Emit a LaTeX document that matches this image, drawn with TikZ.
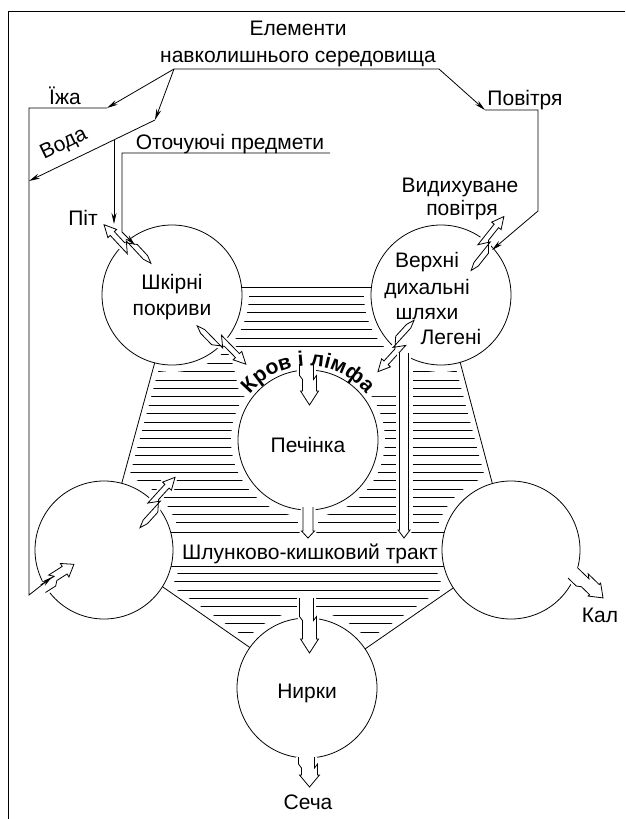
\documentclass[tikz,border=0pt]{standalone}
\usepackage{fontspec}
\setmainfont{Liberation Sans}
\usetikzlibrary{arrows.meta,calc,decorations.text}
\newcommand\getang[2]{\path let \p1=(#1), \p2=(#2), \n1={atan2(\y2-\y1,\x2-\x1)}, \n2={veclen(\x2-\x1,\y2-\y1)} in \pgfextra{\xdef\hang{\n1}\xdef\hlen{\n2}};}
% #1 tail, #2 head, #3 half shaft, #4 half head, #5 head length, #6 zig, #7 backstep, #8 tail point (0=open)
\newcommand\harr[8]{%
  \getang{#1}{#2}%
  \begin{scope}[shift={(#1)}, rotate=\hang, x=1pt, y=1pt]
    \pgfmathsetmacro\hnk{\hlen-#5}%
    \pgfmathsetmacro\hmm{0.5*(\hnk+#8)}%
    \pgfmathsetmacro\hza{#6/2}%
    \ifdim #8pt>0pt
      \foreach \st in {halo,hollow}{\filldraw[\st] (0,-\hza) -- (#8,#3-\hza) -- (\hmm+#7,#3-\hza) -- (\hmm-#7,#3+\hza) -- (\hnk,#3+\hza) -- (\hnk,#4+\hza) -- (\hlen,\hza) -- (\hnk,-#4+\hza) -- (\hnk,-#3+\hza) -- (\hmm+#7,-#3+\hza) -- (\hmm-#7,-#3-\hza) -- (#8,-#3-\hza) -- cycle;}
    \else
      \foreach \st in {halo,hollow}{\filldraw[\st] (0,#3-\hza) -- (\hmm+#7,#3-\hza) -- (\hmm-#7,#3+\hza) -- (\hnk,#3+\hza) -- (\hnk,#4+\hza) -- (\hlen,\hza) -- (\hnk,-#4+\hza) -- (\hnk,-#3+\hza) -- (\hmm+#7,-#3+\hza) -- (\hmm-#7,-#3-\hza) -- (0,-#3-\hza);}
    \fi
  \end{scope}}
\begin{document}
\begin{tikzpicture}[x=1pt,y=-1pt,
  lab/.style={font=\fontsize{21}{26}\selectfont, inner sep=0pt, text height=15pt, text depth=0pt},
  blk/.style={line width=0.8pt, -{Stealth[length=11pt,width=5pt]}},
  ring/.style={circle, draw, fill=white, line width=0.8pt, minimum size=140pt, inner sep=0pt},
  hollow/.style={fill=white, draw=black, line width=0.8pt, line join=miter, miter limit=5},
  halo/.style={fill=white, draw=white, line width=5pt, line join=round},
  hatch/.style={line width=0.8pt},
  bound/.style={line width=0.8pt}
]
\useasboundingbox (0,0) rectangle (625,819);
% ---------- hatching ----------
\begin{scope}
\clip (242,287) -- (371,287) -- (441,295) -- (461,363) -- (492,482) -- (511,550) -- (452,589) -- (368,647) -- (307,688) -- (249,647) -- (164,588) -- (104,550) -- (122,482) -- (154,363) -- (172,295) -- cycle;
\foreach \i in {0,...,41} \draw[hatch] (0,296+8.4*\i) -- (625,296+8.4*\i);
\end{scope}
% ---------- white masks ----------
\foreach \c in {(172,295),(441,295),(308,440),(104,550),(511,550),(307,688)} \fill[white] \c circle[radius=77];
\fill[white] (228,349) -- (398,349) -- (398,396) -- (240,396) -- (234,368) -- cycle;
\fill[white] (298,500) rectangle (318,545);
\fill[white] (396,350) rectangle (413,545);
\fill[white] (100,529) rectangle (520,569);
\draw[white, line width=11pt] (156,358) -- (121,486);
\draw[white, line width=11pt] (459,358) -- (493,486);
\draw[white, line width=11pt] (160,585) -- (252,649);
\draw[white, line width=11pt] (456,586) -- (365,649);
% ---------- boundary lines ----------
\draw[bound] (238,287) -- (375,287);
\draw[bound] (156,358) -- (121,486);
\draw[bound] (459,358) -- (493,486);
\draw[bound] (160,585) -- (252,649);
\draw[bound] (456,586) -- (365,649);
\draw[bound] (160,532) -- (455,532);
\draw[bound] (160,566) -- (455,566);
% ---------- circles ----------
\node[ring] (skin) at (172,295) {};
\node[ring] (resp) at (441,295) {};
\node[ring] (liver) at (308,440) {};
\node[ring, minimum size=138pt] (gil) at (104,550) {};
\node[ring, minimum size=138pt] (gir) at (511,550) {};
\node[ring] (kid) at (307,688) {};
% ---------- hollow arrows ----------
\coordinate (a1t) at (148,266); \coordinate (a1h) at (107,222);
\coordinate (a2t) at (200,323); \coordinate (a2h) at (243,367);
\coordinate (a3t) at (417,323); \coordinate (a3h) at (375,369);
\coordinate (a4t) at (468,268); \coordinate (a4h) at (507,219);
\coordinate (a5t) at (137,525); \coordinate (a5h) at (178,480);
\coordinate (a6t) at (42,587);  \coordinate (a6h) at (75,566);
\coordinate (a7t) at (308,364); \coordinate (a7h) at (308,405);
\coordinate (a8t) at (308,507); \coordinate (a8h) at (308,538);
\coordinate (a9t) at (404,353); \coordinate (a9h) at (404,538);
\coordinate (a10t) at (308,598); \coordinate (a10h) at (308,653);
\coordinate (a11t) at (308,757); \coordinate (a11h) at (308,787);
\coordinate (a12t) at (574,572); \coordinate (a12h) at (602,599);
\harr{a1t}{a1h}{2.8}{6}{12}{8}{5}{8}
\harr{a2t}{a2h}{2.8}{6}{12}{8}{5}{8}
\harr{a3t}{a3h}{2.8}{6}{12}{8}{5}{8}
\harr{a4t}{a4h}{2.8}{6}{12}{8}{5}{8}
\harr{a5t}{a5h}{2.8}{6}{12}{8}{5}{8}
\harr{a6t}{a6h}{4.5}{8}{11}{4}{2}{0}
\harr{a7t}{a7h}{7}{9}{14}{3}{2}{0}
\harr{a8t}{a8h}{5}{6.5}{7}{0}{0}{0}
\harr{a9t}{a9h}{4.5}{6}{8}{0}{0}{0}
\harr{a10t}{a10h}{7}{9}{14}{3}{2}{0}
\harr{a11t}{a11h}{8}{10}{12}{3}{2}{0}
\harr{a12t}{a12h}{7}{9}{12}{3}{2}{0}
% ---------- black arrows ----------
\coordinate (e0) at (174,69); \coordinate (e1) at (439,69);
\coordinate (pv) at (485,110); \coordinate (pv2) at (538,110); \coordinate (pv3) at (538,211); \coordinate (pve) at (492,250);
\coordinate (zh) at (107,108); \coordinate (zh1) at (29,108); \coordinate (zh2) at (29,595); \coordinate (zhe) at (52,577);
\coordinate (vd) at (155,120); \coordinate (vde) at (29,181); \coordinate (vdj) at (114,140); \coordinate (vde2) at (114,224);
\coordinate (ot0) at (330,153); \coordinate (ot1) at (122,153); \coordinate (ot2) at (122,232); \coordinate (ote) at (135,245);
\draw[blk] (e0) -- (e1) -- (pv);
\draw[blk] (pv) -- (pv2) -- (pv3) -- (pve);
\draw[blk] (e0) -- (zh);
\draw[blk] (zh) -- (zh1) -- (zh2) -- (zhe);
\draw[blk] (e0) -- (vd);
\draw[blk] (vd) -- (vde);
\draw[blk] (vdj) -- (vde2);
\draw[blk] (ot0) -- (ot1) -- (ot2) -- (ote);
% ---------- texts ----------
\node[lab] (tEl) at (298,28) {Елементи};
\node[lab] (tNav) at (298,55) {навколишнього середовища};
\node[lab] (tZh) at (65,97) {Їжа};
\node[lab, rotate=26] (tVoda) at (63,142) {Вода};
\node[lab] (tOt) at (230,142) {Оточуючі предмети};
\node[lab] (tPov) at (525,98) {Повітря};
\node[lab] (tPit) at (83,218) {Піт};
\node[lab] (tVyd1) at (460,185) {Видихуване};
\node[lab] (tVyd2) at (462,208) {повітря};
\node[lab] (tSk1) at (172,282) {Шкірні};
\node[lab] (tSk2) at (172,308) {покриви};
\node[lab] (tR1) at (427,260) {Верхні};
\node[lab] (tR2) at (427,287) {дихальні};
\node[lab] (tR3) at (427,312) {шляхи};
\node[lab] (tR4) at (451,337) {Легені};
\node[lab] (tLiv) at (308,445) {Печінка};
\node[lab] (tGI) at (310,552) {Шлунково-кишковий тракт};
\node[lab] (tKid) at (307,691) {Нирки};
\node[lab] (tSe) at (308,802) {Сеча};
\node[lab] (tKal) at (600,615) {Кал};
\path[decorate, decoration={text along path, text align=center, text={|\fontsize{21}{21}\selectfont\bfseries|Кров і лімфа}}] (308,440) ++(-138:74) arc[start angle=-138, end angle=-42, radius=74];
% ---------- frame ----------
\draw[line width=0.9pt] (8,819) -- (8,11) -- (625,11);
\end{tikzpicture}
\end{document}
